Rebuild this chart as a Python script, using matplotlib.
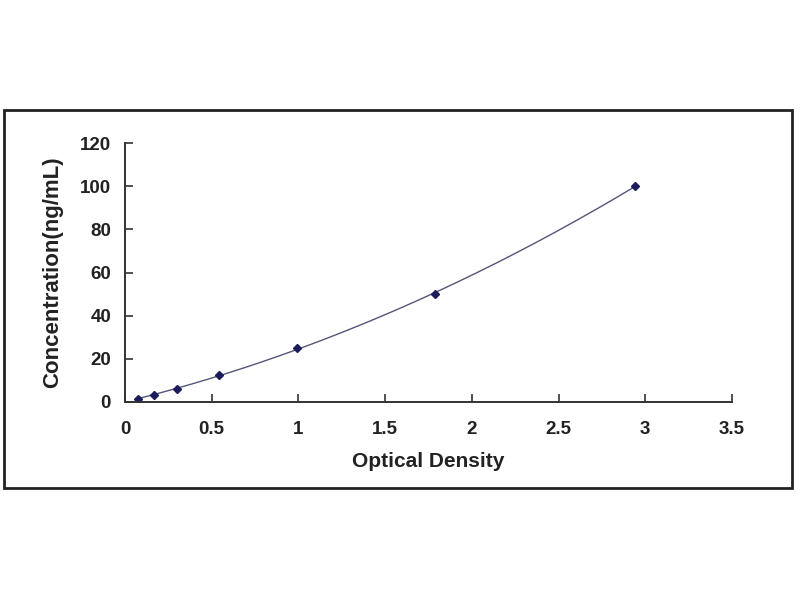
import numpy as np
import matplotlib
matplotlib.use("Agg")
import matplotlib.pyplot as plt
from matplotlib.patches import Rectangle

# standard curve readings
od = [0.075, 0.17, 0.30, 0.54, 0.99, 1.79, 2.94]
conc = [1.56, 3.12, 6.25, 12.5, 25, 50, 100]

x_ticks = [0, 0.5, 1, 1.5, 2, 2.5, 3, 3.5]
x_labels = ["0", "0.5", "1", "1.5", "2", "2.5", "3", "3.5"]
y_ticks = [0, 20, 40, 60, 80, 100, 120]

plt.rcParams['font.family'] = ['Liberation Sans', 'DejaVu Sans']

fig = plt.figure(figsize=(8, 6), dpi=100)
fig.patches.append(Rectangle((0.005, 1 - 488 / 600), 0.985, 378 / 600,
                             transform=fig.transFigure, fill=False,
                             edgecolor='#222222', linewidth=2))

ax = fig.add_axes([125 / 800, 1 - 402 / 600, 607 / 800, 259 / 600])

# smooth fitted curve through the standards
coef = np.polyfit(od, conc, 2)
xs = np.linspace(od[0], od[-1], 200)
ax.plot(xs, np.polyval(coef, xs), color='#55557a', linewidth=1.0)
ax.plot(od, conc, linestyle='none', marker='D', markersize=4.5,
        color='#1c1c5c')

ax.set_xlim(0, 3.5)
ax.set_ylim(0, 120)
ax.set_xticks(x_ticks)
ax.set_xticklabels(x_labels)
ax.set_yticks(y_ticks)
ax.spines['top'].set_visible(False)
ax.spines['right'].set_visible(False)
for s in ['left', 'bottom']:
    ax.spines[s].set_linewidth(1.4)
    ax.spines[s].set_color('#333333')
ax.tick_params(direction='in', length=6, width=1.2, colors='#333333',
               labelsize=13.5)
ax.tick_params(axis='x', pad=14)
ax.tick_params(axis='y', pad=10)
for lab in ax.get_xticklabels() + ax.get_yticklabels():
    lab.set_fontweight('bold')
    lab.set_color('#222222')

ax.set_xlabel("Optical Density", fontsize=15, fontweight='bold',
              color='#222222', labelpad=10)
ax.set_ylabel("Concentration(ng/mL)", fontsize=16, fontweight='bold',
              color='#222222', labelpad=12)

plt.savefig("out.png", dpi=100)
